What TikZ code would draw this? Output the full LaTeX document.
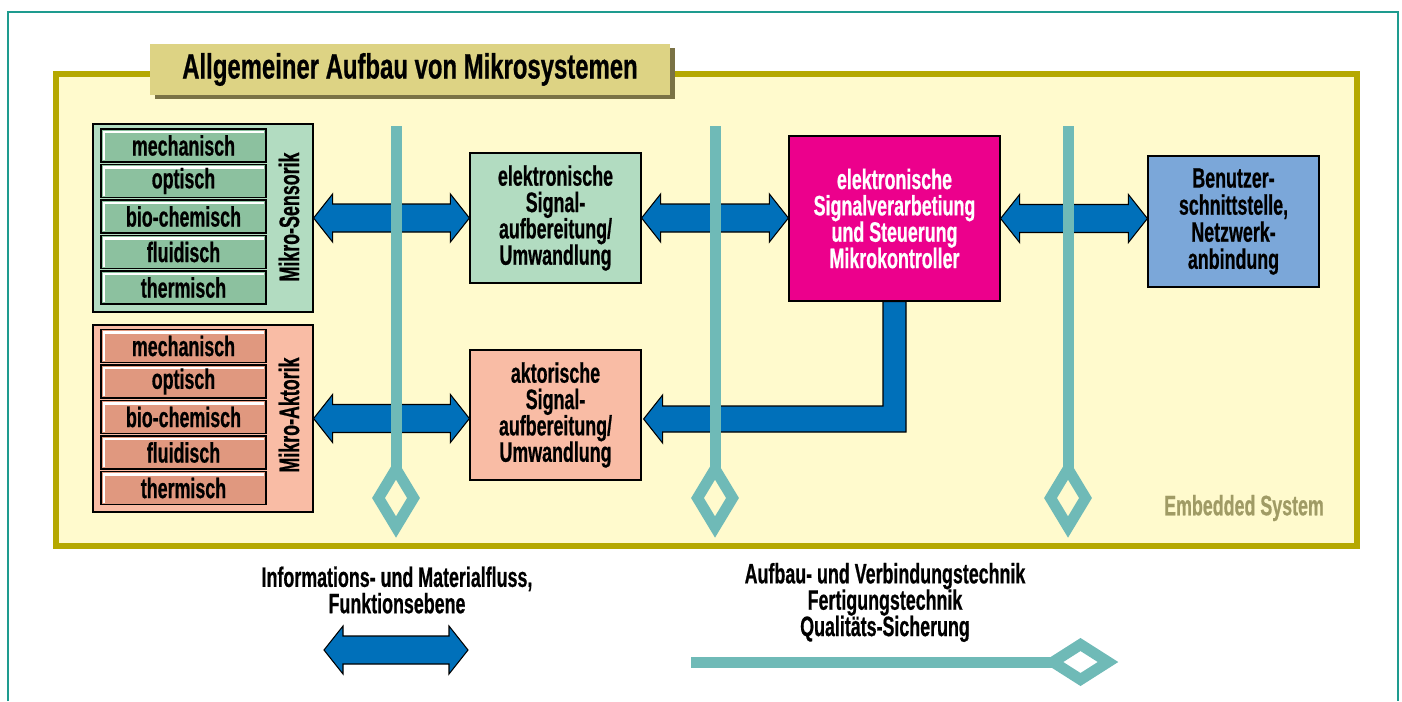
\documentclass[tikz,border=0pt]{standalone}
\usepackage{fontspec}
\newfontfamily\cond[FakeStretch=0.635,BoldFeatures={FakeBold=0.6}]{Liberation Sans}
\newfontfamily\condt[FakeStretch=0.68,BoldFeatures={FakeBold=0.6}]{Liberation Sans}
\usetikzlibrary{shapes,calc}
\definecolor{frameteal}{RGB}{30,155,143}
\definecolor{embolive}{RGB}{181,168,0}
\definecolor{embyellow}{RGB}{255,250,205}
\definecolor{embtext}{RGB}{160,155,101}
\definecolor{titlefill}{RGB}{221,211,132}
\definecolor{titleshadow}{RGB}{122,114,69}
\definecolor{sensgrp}{RGB}{178,220,193}
\definecolor{sensitem}{RGB}{140,193,159}
\definecolor{aktgrp}{RGB}{249,188,165}
\definecolor{aktitem}{RGB}{224,152,127}
\definecolor{bondteal}{RGB}{111,186,183}
\definecolor{arrowblue}{RGB}{0,112,186}
\definecolor{mcmagenta}{RGB}{236,0,140}
\definecolor{userblue}{RGB}{123,167,217}

% fat double arrow from #1 (left tip) to #2 (right tip)
\newcommand{\fatarrow}[2]{\draw[fat] (#1) -- ++(19,-24) -- ++(0,10) -- ($(#2)+(-19,-14)$) -- ++(0,-10) -- (#2) -- ++(-19,24) -- ++(0,-10) -- ($(#1)+(19,14)$) -- ++(0,10) -- cycle;}

\begin{document}
\begin{tikzpicture}[x=0.02cm,y=-0.02cm]
\tikzstyle{txt}=[font=\cond\bfseries\fontsize{16}{15}\selectfont,align=center,inner sep=0pt];
\tikzstyle{blk}=[draw,line width=0.7pt,txt];
\tikzstyle{grp}=[blk,minimum width=4.4cm,minimum height=3.76cm];
\tikzstyle{item}=[draw,line width=1.1pt,minimum width=3.3cm,minimum height=0.66cm,txt,
  path picture={\draw[white,line width=1.2pt] ([xshift=1.7pt,yshift=1pt]path picture bounding box.south west) |- ([xshift=-1pt,yshift=-1.7pt]path picture bounding box.north east);}];
\tikzstyle{sig}=[blk,minimum width=3.42cm,minimum height=2.6cm];
\tikzstyle{fat}=[fill=arrowblue,draw=black,line width=0.6pt,line join=miter];
\tikzstyle{bond}=[draw=bondteal,line width=0.22cm,line join=miter];
\useasboundingbox (0,0) rectangle (1402,701);
\draw[frameteal,line width=1.2pt] (8,701) -- (8,12) -- (1398,12) -- (1398,701);
% embedded system frame and title
\node[draw=embolive,line width=0.12cm,fill=embyellow,minimum width=26.02cm,minimum height=9.44cm] (emb) at (706.5,310) {};
\node[txt,text=embtext,font=\cond\bfseries\fontsize{16}{16}\selectfont] (embl) at (1244,508) {Embedded System};
\node[fill=titleshadow,minimum width=10.4cm,minimum height=1.02cm] (tshadow) at (415,73.5) {};
\node[fill=titlefill,minimum width=10.4cm,minimum height=1.02cm,font=\condt\bfseries\fontsize{20}{20}\selectfont] (title) at (410,69.5) {Allgemeiner Aufbau von Mikrosystemen};
% sensors and actuators
\node[grp,fill=sensgrp] (sens) at (203,218) {};
\node[grp,fill=aktgrp,minimum height=3.74cm] (akt) at (203,418.5) {};
\foreach \i/\t in {0/mechanisch,1/optisch,2/bio-chemisch,3/fluidisch,4/thermisch} {
  \node[item,fill=sensitem] (s\i) at (183.5,145.5+35.5*\i) {\t};
  \node[item,fill=aktitem] (a\i) at (183.5,346+35.5*\i) {\t};
}
\node[txt,rotate=90] (sensl) at (289,217) {Mikro-Sensorik};
\node[txt,rotate=90] (aktl) at (289,415) {Mikro-Aktorik};
% processing blocks
\node[sig,fill=sensgrp] (esig) at (555.5,218) {elektronische\\Signal-\\aufbereitung/\\Umwandlung};
\node[sig,fill=aktgrp] (asig) at (555.5,415) {aktorische\\Signal-\\aufbereitung/\\Umwandlung};
\node[blk,fill=mcmagenta,text=white,minimum width=4.22cm,minimum height=3.3cm] (mc) at (894.5,218.5) {elektronische\\Signalverarbetiung\\und Steuerung\\Mikrokontroller};
\node[blk,fill=userblue,minimum width=3.42cm,minimum height=2.62cm,font=\cond\bfseries\fontsize{16}{15.4}\selectfont] (user) at (1233.5,221.5) {Benutzer-\\schnittstelle,\\Netzwerk-\\anbindung};
% information flow
\coordinate (f1) at (sens.east -| esig.west);
\coordinate (f2) at (akt.east -| asig.west);
\coordinate (f3) at (esig.east -| mc.west);
\coordinate (f4) at (mc.east -| user.west);
\fatarrow{sens.east}{f1}
\fatarrow{akt.east}{f2}
\fatarrow{esig.east}{f3}
\fatarrow{mc.east}{f4}
\coordinate (lt) at ($(asig.east)+(2,4)$);
\draw[fat] ($(mc.south)+(-11.5,0)$) |- ($(lt)+(19,-13)$) -- ++(0,-11) -- (lt) -- ++(19,24) -- ++(0,-11) -| ($(mc.south)+(11.5,0)$) -- cycle;
% assembly lines
\foreach \x in {396,715,1068} {
  \draw[bond] (\x,126) -- (\x,469);
  \draw[bond] (\x,469) -- ++(17.5,29) -- ++(-17.5,29) -- ++(-17.5,-29) -- cycle;
}
% legend
\node[txt] (lg1) at (397,590) {Informations- und Materialfluss,\\Funktionsebene};
\coordinate (la) at (324,650);
\coordinate (lb) at (468,650);
\fatarrow{la}{lb}
\node[txt] (lg2) at (885,602.5) {Aufbau- und Verbindungstechnik\\Fertigungstechnik\\Qualit\"ats-Sicherung};
\coordinate (lc) at (691,662);
\coordinate (ld) at (1053,662);
\draw[bond] (lc) -- (ld);
\draw[bond] (ld) -- ++(27.5,-17.5) -- ++(27.5,17.5) -- ++(-27.5,17.5) -- cycle;
\end{tikzpicture}
\end{document}
